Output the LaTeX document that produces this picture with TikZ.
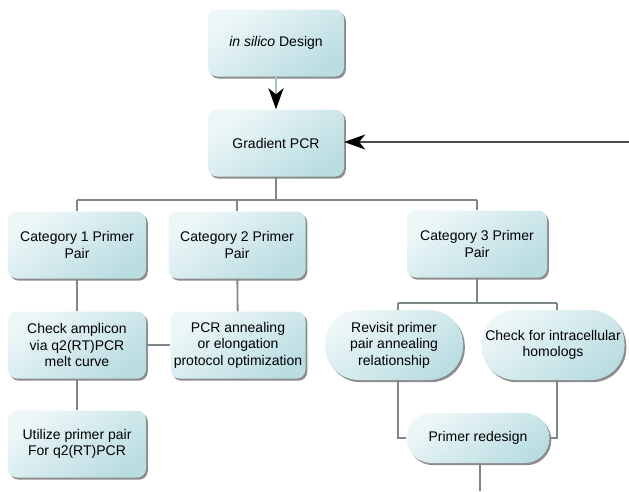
\documentclass[tikz,border=0pt]{standalone}
\usepackage{fontspec}
\setmainfont{Liberation Sans}
\usetikzlibrary{arrows.meta,shadows}
\definecolor{boxlight}{RGB}{238,247,248}
\definecolor{boxdark}{RGB}{186,221,226}
\definecolor{linkgray}{RGB}{125,135,135}

\begin{document}
\begin{tikzpicture}[x=1pt,y=-1pt,
	every node/.style={font=\fontsize{14}{16.5}\selectfont, align=center, inner sep=0pt},
	stepbox/.style={rectangle, rounded corners=9pt, minimum width=138pt, minimum height=67pt,
		top color=boxlight, bottom color=boxdark, shading angle=35,
		drop shadow={shadow xshift=1.8pt, shadow yshift=-2.2pt, fill=black!60, opacity=0.75}},
	roundbox/.style={stepbox, rounded corners=34pt, minimum height=70pt},
	link/.style={draw=linkgray, line width=1.8pt},
	arrowtip/.style={-{Stealth[black, length=21pt, width=15pt, inset=6pt]}}]

	\useasboundingbox (0,0) rectangle (629,491);

	\node[stepbox, minimum width=136pt] (design) at (276,43) {\textit{in silico} Design};
	\node[stepbox, minimum width=136pt] (gradient) at (276,143) {Gradient PCR};

	\node[stepbox] (cat1) at (77,245) {Category 1 Primer\\Pair};
	\node[stepbox, minimum width=137pt] (cat2) at (237,245) {Category 2 Primer\\Pair};
	\node[stepbox, minimum width=140pt] (cat3) at (477,244) {Category 3 Primer\\Pair};

	\node[stepbox] (check) at (77,345) {Check amplicon\\via q2(RT)PCR\\melt curve};
	\node[stepbox, minimum width=135pt] (anneal) at (238,345) {PCR annealing\\or elongation\\protocol optimization};
	\node[stepbox] (utilize) at (77,444) {Utilize primer pair\\For q2(RT)PCR};

	\node[roundbox] (revisit) at (394,345) {Revisit primer\\pair annealing\\relationship};
	\node[roundbox, minimum width=143pt] (homolog) at (553,345) {Check for intracellular\\homologs};
	\node[roundbox, minimum width=143pt, minimum height=50pt, rounded corners=25pt] (redesign) at (478,438) {Primer redesign};

	\coordinate (hub) at (276,200);
	\coordinate (split) at (477,303);
	\coordinate (splitL) at (398,303);
	\coordinate (splitR) at (557,303);
	\coordinate (loopin) at (629,142);
	\coordinate (loopout) at (480,491);

	\draw[link, arrowtip, line width=2.6pt, draw=boxdark!70!linkgray] (design) -- (gradient);
	\draw[link, arrowtip, draw=black!70, line width=1.6pt] (loopin) -- (gradient.east |- loopin);

	\draw[link] (gradient) -- (hub);
	\draw[link] (hub -| cat1) -- (hub -| cat3);
	\draw[link] (hub -| cat1) -- (cat1);
	\draw[link] (hub -| cat2) -- (cat2);
	\draw[link] (hub -| cat3) -- (cat3);

	\draw[link] (cat1) -- (check);
	\draw[link] (check) -- (utilize);
	\draw[link] (cat2) -- (anneal);
	\draw[link] (check) -- (anneal);

	\draw[link] (cat3) -- (split);
	\draw[link] (splitL) -- (splitR);
	\draw[link] (splitL) -- (revisit.north -| splitL);
	\draw[link] (splitR) -- (homolog.north -| splitR);
	\draw[link] (revisit.south -| splitL) |- (redesign.west);
	\draw[link] (homolog.south -| splitR) |- (redesign.east);
	\draw[link] (redesign.south -| loopout) -- (loopout);
\end{tikzpicture}
\end{document}
